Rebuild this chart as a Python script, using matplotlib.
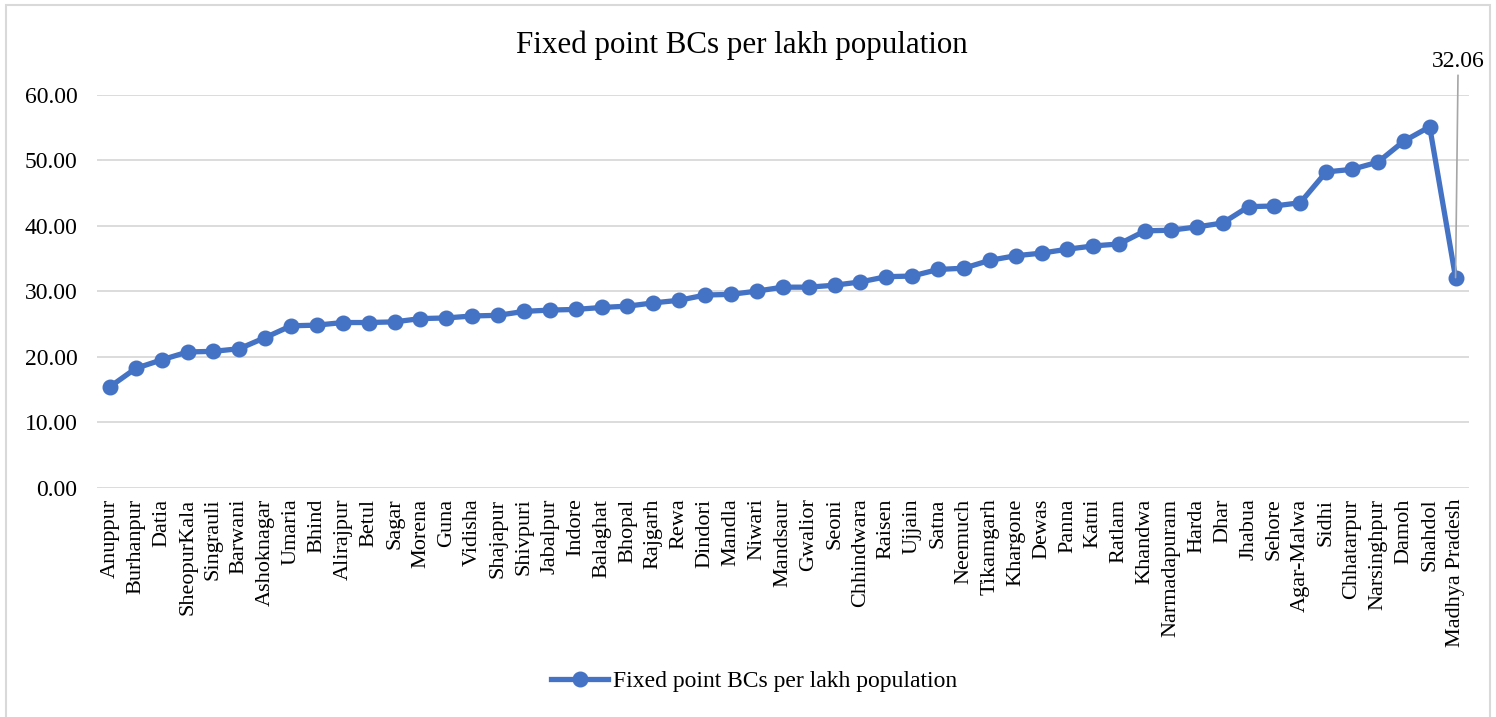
import matplotlib.pyplot as plt
from matplotlib.patches import Rectangle

plt.rcParams['font.family'] = ['Liberation Serif', 'DejaVu Serif']

districts = ['Anuppur', 'Burhanpur', 'Datia', 'SheopurKala', 'Singrauli', 'Barwani',
             'Ashoknagar', 'Umaria', 'Bhind', 'Alirajpur', 'Betul', 'Sagar', 'Morena',
             'Guna', 'Vidisha', 'Shajapur', 'Shivpuri', 'Jabalpur', 'Indore', 'Balaghat',
             'Bhopal', 'Rajgarh', 'Rewa', 'Dindori', 'Mandla', 'Niwari', 'Mandsaur',
             'Gwalior', 'Seoni', 'Chhindwara', 'Raisen', 'Ujjain', 'Satna', 'Neemuch',
             'Tikamgarh', 'Khargone', 'Dewas', 'Panna', 'Katni', 'Ratlam', 'Khandwa',
             'Narmadapuram', 'Harda', 'Dhar', 'Jhabua', 'Sehore', 'Agar-Malwa', 'Sidhi',
             'Chhatarpur', 'Narsinghpur', 'Damoh', 'Shahdol', 'Madhya Pradesh']

bcs_per_lakh = [15.39, 18.20, 19.50, 20.70, 20.80, 21.20, 22.90, 24.70, 24.80, 25.20,
                25.20, 25.30, 25.80, 25.90, 26.20, 26.30, 26.90, 27.10, 27.20, 27.50,
                27.70, 28.20, 28.60, 29.40, 29.50, 30.00, 30.60, 30.60, 30.90, 31.40,
                32.20, 32.30, 33.30, 33.50, 34.70, 35.40, 35.80, 36.40, 36.90, 37.20,
                39.20, 39.30, 39.80, 40.40, 42.90, 43.00, 43.50, 48.20, 48.60, 49.70,
                52.90, 55.10, 32.06]

yticks = [0, 10, 20, 30, 40, 50, 60]
blue = '#4472C4'

fig = plt.figure(figsize=(14.96, 7.17), dpi=100)
ax = fig.add_axes([97 / 1496, 1 - 487.5 / 717, (1468.5 - 97) / 1496, (487.5 - 94.7) / 717])

x = list(range(len(districts)))
ax.plot(x, bcs_per_lakh, color=blue, lw=3.8, marker='o', ms=10.5,
        label='Fixed point BCs per lakh population', zorder=3, clip_on=False)

ax.set_xlim(-0.5, len(districts) - 0.5)
ax.set_ylim(0, 60)
ax.set_yticks(yticks)
ax.set_yticklabels([f'{v:.2f}' for v in yticks], fontsize=17)
ax.set_xticks(x)
ax.set_xticklabels(districts, rotation=90, fontsize=16)
ax.tick_params(axis='y', length=0, pad=14)
ax.tick_params(axis='x', length=0, pad=8)
ax.grid(axis='y', color='#d9d9d9', lw=1.3)
ax.set_axisbelow(True)
for s in ax.spines.values():
    s.set_visible(False)

# last value callout with leader line
ax.annotate(f'{bcs_per_lakh[-1]:.2f}', xy=(x[-1], bcs_per_lakh[-1]),
            xytext=(x[-1] + 0.1, 63.4), ha='center', va='bottom', fontsize=17,
            arrowprops=dict(arrowstyle='-', color='#a6a6a6', lw=1.2,
                            shrinkA=0, shrinkB=0),
            annotation_clip=False)

fig.text(742 / 1496, 1 - 45 / 717, 'Fixed point BCs per lakh population', ha='center',
         va='center', fontsize=22.3)

fig.legend(loc='center', bbox_to_anchor=(0.504, 1 - 681 / 717), frameon=False,
           fontsize=17, handlelength=2.4, handletextpad=0.2)

# chart area border
fig.patches.append(Rectangle((6 / 1496, -0.05), 1484 / 1496, 1 - 5 / 717 + 0.05,
                             transform=fig.transFigure, fill=False,
                             edgecolor='#d9d9d9', lw=1.5))

fig.savefig('out.png', dpi=100, facecolor='white')
